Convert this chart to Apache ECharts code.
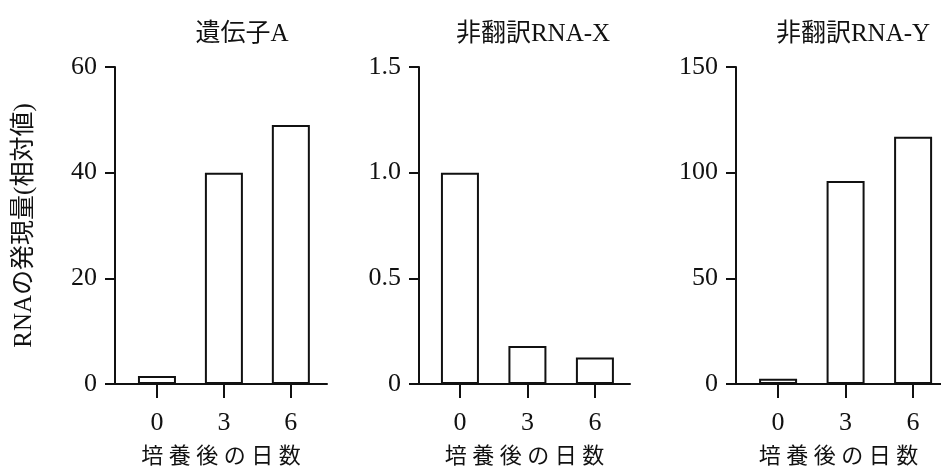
<!DOCTYPE html>
<html>
<head>
<meta charset="utf-8">
<script src="https://cdn.jsdelivr.net/npm/echarts@6/dist/echarts.min.js"></script>
<style>
  html, body { margin: 0; padding: 0; background: #fff; }
  #main { width: 941px; height: 474px; }
</style>
</head>
<body>
<div id="main"></div>
<script>
const days = [0, 3, 6];
const titles = ['遺伝子A', '非翻訳RNA-X', '非翻訳RNA-Y'];
const geneA = [1.5, 40, 49];
const rnaX = [1.0, 0.18, 0.125];
const rnaY = [2.5, 96, 117];
const yMax = [60, 1.5, 150];
const yStep = [20, 0.5, 50];
const yTitle = 'RNAの発現量(相対値)';
const xTitle = '培養後の日数';

const serif = "'Liberation Serif', 'Noto Sans CJK JP', serif";

// panel geometry: left edge, width, x range
const panels = [
  { left: 115, width: 212, min: -1.88, max: 7.62, tx: 237 },
  { left: 419, width: 211, min: -1.82, max: 7.56, tx: 528 },
  { left: 736, width: 205, min: -1.87, max: 7.24, tx: 848 }
];
const allValues = [geneA, rnaX, rnaY];

const line = { color: '#111', width: 2 };

let option = {
  backgroundColor: '#fff',
  animation: false,
  title: panels.map((p, i) => ({
    text: titles[i],
    left: p.tx,
    top: 17,
    textAlign: 'center',
    textStyle: { fontFamily: serif, fontSize: 25, fontWeight: 'normal', color: '#111' }
  })),
  grid: panels.map(p => ({ left: p.left, width: p.width, top: 67, bottom: 90 })),
  xAxis: panels.map((p, i) => ({
    type: 'value',
    gridIndex: i,
    min: p.min,
    max: p.max,
    name: xTitle.split('').join(' '),
    nameLocation: 'middle',
    nameGap: 62,
    nameTextStyle: { fontFamily: serif, fontSize: 22, color: '#111' },
    axisLine: { show: true, onZero: false, lineStyle: line },
    axisTick: { show: true, length: 14, lineStyle: line, customValues: days },
    axisLabel: { customValues: days, margin: 26, fontFamily: serif, fontSize: 26, color: '#111' },
    splitLine: { show: false }
  })),
  yAxis: panels.map((p, i) => ({
    type: 'value',
    gridIndex: i,
    min: 0,
    max: yMax[i],
    interval: yStep[i],
    name: i === 0 ? yTitle : '',
    nameLocation: 'middle',
    nameRotate: 90,
    nameGap: 78,
    nameTextStyle: { fontFamily: serif, fontSize: 25, color: '#111' },
    axisLine: { show: true, onZero: false, lineStyle: line },
    axisTick: { show: true, length: 10, lineStyle: line },
    axisLabel: {
      margin: 18,
      fontFamily: serif,
      fontSize: 26,
      color: '#111',
      formatter: v => (i === 1 && v !== 0) ? v.toFixed(1) : String(v)
    },
    splitLine: { show: false }
  })),
  series: allValues.map((vals, i) => ({
    type: 'bar',
    xAxisIndex: i,
    yAxisIndex: i,
    barWidth: 38,
    data: days.map((d, j) => [d, vals[j]]),
    itemStyle: { color: '#fff', borderColor: '#111', borderWidth: 2 }
  }))
};

let myChart = echarts.init(document.getElementById('main'));
myChart.setOption(option);
window.addEventListener('resize', function () {
  myChart.resize();
});
</script>
</body>
</html>
